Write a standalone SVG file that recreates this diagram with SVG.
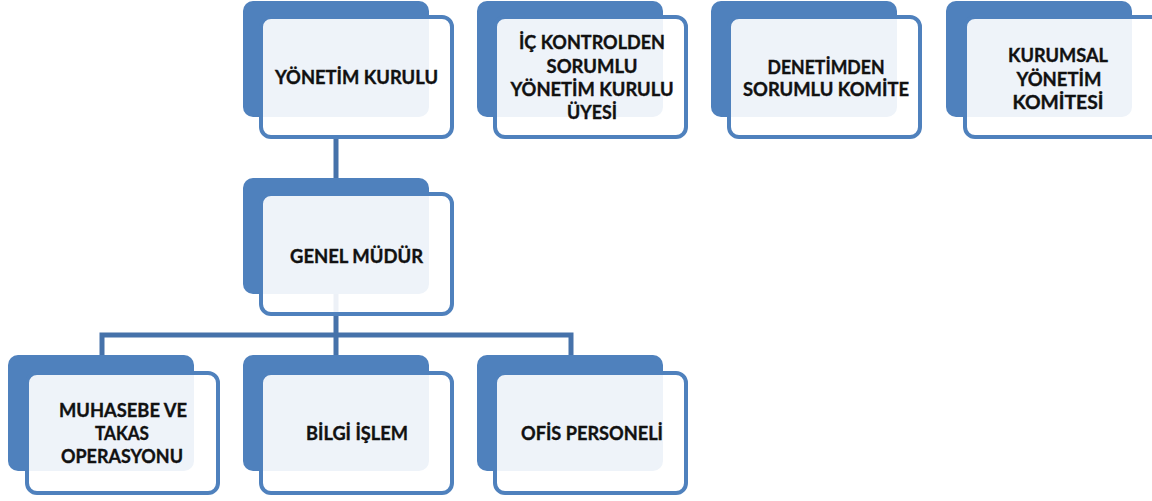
<svg xmlns="http://www.w3.org/2000/svg" width="1152" height="501" viewBox="0 0 1152 501">
<style>
.back{fill:#4F81BD}
.front{fill:#FFFFFF;fill-opacity:0.9;stroke:#4F81BD;stroke-width:4}
.conn{fill:none;stroke:#4672AA;stroke-width:5}
text{font-family:Lato,"Open Sans","Liberation Sans",sans-serif;font-weight:bold;font-size:18px;fill:#111111;stroke:#111111;stroke-width:0.35;text-anchor:middle}
</style>
<rect width="1152" height="501" fill="#FFFFFF"/>
<g id="connectors">
<path class="conn" d="M336,137 V357"/>
<path class="conn" d="M102,357 V335 H571 V357"/>
</g>
<g id="yonetim-kurulu">
<rect class="back" x="243" y="1" width="186" height="116" rx="10"/>
<rect class="front" x="261" y="17" width="191" height="120" rx="10"/>
<text x="356.5" y="84" textLength="163" lengthAdjust="spacingAndGlyphs">YÖNETİM KURULU</text>
</g>
<g id="ic-kontrol">
<rect class="back" x="477" y="1" width="186" height="116" rx="10"/>
<rect class="front" x="495" y="17" width="191" height="120" rx="10"/>
<text x="592" y="49" textLength="146" lengthAdjust="spacingAndGlyphs">İÇ KONTROLDEN</text>
<text x="592" y="73" textLength="91" lengthAdjust="spacingAndGlyphs">SORUMLU</text>
<text x="592" y="96" textLength="163" lengthAdjust="spacingAndGlyphs">YÖNETİM KURULU</text>
<text x="592" y="119" textLength="50" lengthAdjust="spacingAndGlyphs">ÜYESİ</text>
</g>
<g id="denetim">
<rect class="back" x="711" y="1" width="186" height="116" rx="10"/>
<rect class="front" x="729" y="17" width="191" height="120" rx="10"/>
<text x="826" y="74" textLength="117" lengthAdjust="spacingAndGlyphs">DENETİMDEN</text>
<text x="826" y="96" textLength="166" lengthAdjust="spacingAndGlyphs">SORUMLU KOMİTE</text>
</g>
<g id="kurumsal">
<rect class="back" x="946" y="1" width="186" height="116" rx="10"/>
<rect class="front" x="965" y="17" width="198" height="120" rx="10"/>
<text x="1058" y="62" textLength="100" lengthAdjust="spacingAndGlyphs">KURUMSAL</text>
<text x="1059" y="86" textLength="85" lengthAdjust="spacingAndGlyphs">YÖNETİM</text>
<text x="1058" y="109" textLength="91" lengthAdjust="spacingAndGlyphs">KOMİTESİ</text>
</g>
<g id="genel-mudur">
<rect class="back" x="243" y="178" width="186" height="116" rx="10"/>
<rect class="front" x="261" y="194" width="191" height="120" rx="10"/>
<text x="356.5" y="263" textLength="133" lengthAdjust="spacingAndGlyphs">GENEL MÜDÜR</text>
</g>
<g id="muhasebe">
<rect class="back" x="8" y="355" width="186" height="116" rx="10"/>
<rect class="front" x="27" y="373" width="191" height="120" rx="10"/>
<text x="123" y="417" textLength="128" lengthAdjust="spacingAndGlyphs">MUHASEBE VE</text>
<text x="122" y="440" textLength="54" lengthAdjust="spacingAndGlyphs">TAKAS</text>
<text x="122" y="463" textLength="122" lengthAdjust="spacingAndGlyphs">OPERASYONU</text>
</g>
<g id="bilgi-islem">
<rect class="back" x="243" y="355" width="186" height="116" rx="10"/>
<rect class="front" x="261" y="373" width="191" height="120" rx="10"/>
<text x="357" y="440" textLength="102" lengthAdjust="spacingAndGlyphs">BİLGİ İŞLEM</text>
</g>
<g id="ofis-personeli">
<rect class="back" x="477" y="355" width="186" height="116" rx="10"/>
<rect class="front" x="495" y="373" width="191" height="120" rx="10"/>
<text x="592" y="440" textLength="142" lengthAdjust="spacingAndGlyphs">OFİS PERSONELİ</text>
</g>
</svg>
